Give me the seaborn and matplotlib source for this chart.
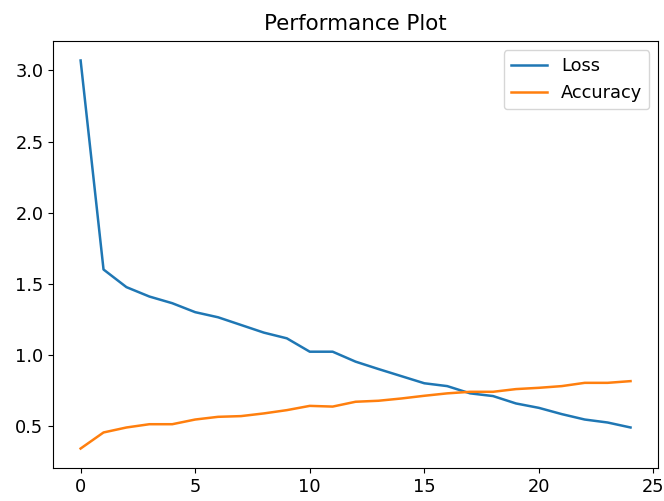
'''
Performance Plot
'''

# Importing Libraries
import matplotlib
matplotlib.use('Agg')
import matplotlib.pyplot as plt
import seaborn as sns
import numpy as np

epochs = list(range(25))
loss = [3.07, 1.60, 1.476, 1.41, 1.363, 1.30, 1.264, 1.21, 1.156, 1.116,
        1.022, 1.022, 0.952, 0.90, 0.85, 0.80, 0.78, 0.729, 0.71, 0.658,
        0.627, 0.583, 0.545, 0.524, 0.489]
accuracy = [0.341, 0.454, 0.489, 0.512, 0.512, 0.545, 0.564, 0.569, 0.588, 0.611,
            0.641, 0.636, 0.67, 0.677, 0.693, 0.712, 0.729, 0.74, 0.74, 0.759,
            0.768, 0.78, 0.803, 0.803, 0.815]

plt.rcParams['font.family'] = ['DejaVu Sans']
plt.rcParams['font.size'] = 12.8

# Defining the figure
fig, ax = plt.subplots(figsize=(6.64, 5.01), dpi=100)
fig.subplots_adjust(left=0.080, right=0.991, top=0.918, bottom=0.066)

# Loss and Accuracy lines
sns.lineplot(x=epochs, y=loss, label='Loss', color='#1f77b4', linewidth=1.8, ax=ax)
sns.lineplot(x=epochs, y=accuracy, label='Accuracy', color='#ff7f0e', linewidth=1.8, ax=ax)

ax.set_title('Performance Plot', fontsize=15.4, pad=8)
ax.set_xticks([0, 5, 10, 15, 20, 25])
ax.legend(loc='upper right')

# Save the plot
fig.savefig('out.png', dpi=100)
